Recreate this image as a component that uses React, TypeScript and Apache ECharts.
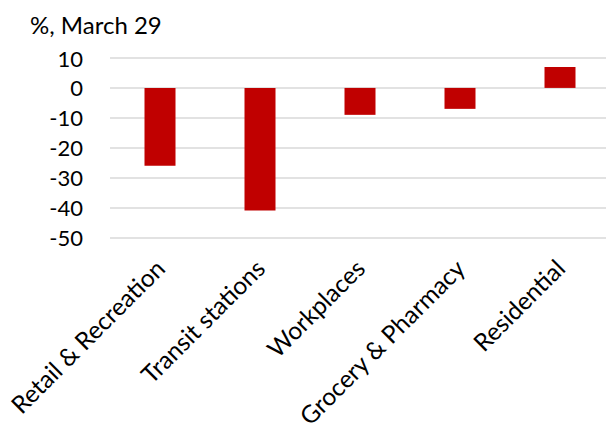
import React, { useEffect, useRef } from "react";
import * as echarts from "echarts";

const categories = ["Retail & Recreation", "Transit stations", "Workplaces", "Grocery & Pharmacy", "Residential"];
const values = [-26, -41, -9, -7, 7];
const yTicks = [10, 0, -10, -20, -30, -40, -50];
const titleText = "%, March 29";

const FONT = "Lato, 'Open Sans', sans-serif";

export default function App() {
  const ref = useRef<HTMLDivElement>(null);
  useEffect(() => {
    if (!ref.current) return;
    const chart = echarts.init(ref.current, null, { renderer: "svg" });
    chart.setOption({
      animation: false,
      textStyle: { fontFamily: FONT },
      title: {
        text: titleText,
        left: 25,
        top: 7,
        textStyle: { fontFamily: FONT, fontSize: 24, fontWeight: "normal", color: "#000" },
      },
      grid: {
        left: 110,
        right: -4,
        top: 58,
        bottom: 427 - 237.5,
        containLabel: false,
        outerBoundsMode: "none",
      },
      xAxis: {
        type: "category",
        data: categories,
        axisLine: { show: false },
        axisTick: { show: false },
        axisLabel: {
          rotate: 45,
          interval: 0,
          margin: 26,
          fontSize: 24.5,
          fontFamily: FONT,
          color: "#000",
        },
      },
      yAxis: {
        type: "value",
        min: Math.min(...yTicks),
        max: Math.max(...yTicks),
        interval: 10,
        axisLine: { show: false },
        axisTick: { show: false },
        splitLine: { lineStyle: { color: "#d9d9d9", width: 1.5 } },
        axisLabel: { fontSize: 22, fontFamily: FONT, color: "#000", margin: 27 },
      },
      series: [
        {
          type: "bar",
          data: values,
          barWidth: 31,
          itemStyle: { color: "#C00000" },
        },
      ],
    });
    return () => chart.dispose();
  }, []);
  return <div ref={ref} style={{ width: 606, height: 427, position: "absolute", left: 0, top: 0 }} />;
}
